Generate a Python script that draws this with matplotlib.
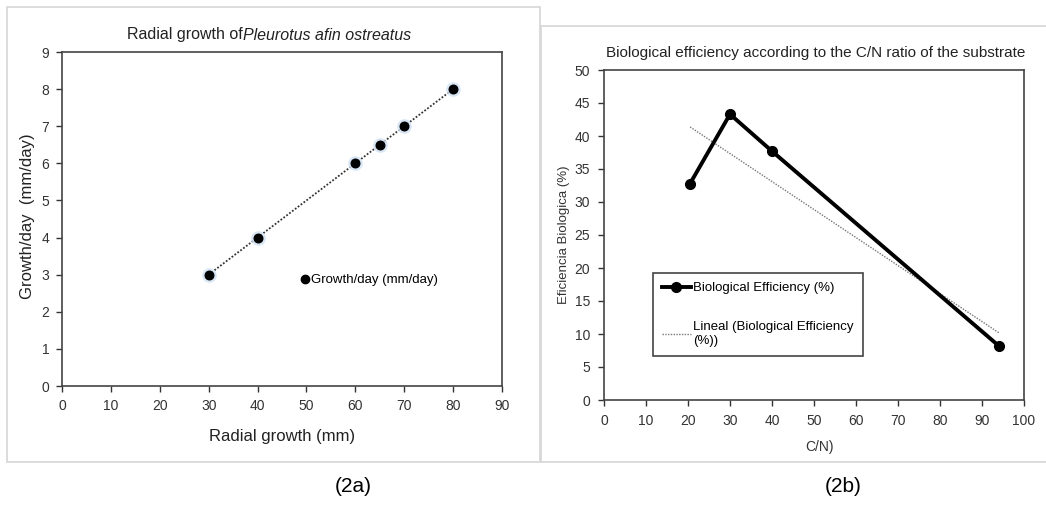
import numpy as np
import matplotlib
matplotlib.use("Agg")
import matplotlib.pyplot as plt
from matplotlib.patches import Rectangle
from matplotlib.lines import Line2D

plt.rcParams['font.family'] = ['Liberation Sans', 'DejaVu Sans']

# Panel (2a): radial growth vs growth per day
radial_growth = [30, 40, 60, 65, 70, 80]
growth_per_day = [3, 4, 6, 6.5, 7, 8]

# Panel (2b): biological efficiency vs C/N ratio
cn_ratio = [20.5, 30, 40, 94]
bio_eff = [32.8, 43.3, 37.7, 8.2]

W, H = 1046, 526
fig = plt.figure(figsize=(W / 100, H / 100), dpi=100)
fig.patch.set_facecolor('white')


def px_axes(x0, y0, x1, y1):
    return fig.add_axes([x0 / W, 1 - y1 / H, (x1 - x0) / W, (y1 - y0) / H])


def fx(x):
    return x / W


def fy(y):
    return 1 - y / H


# light grey frames around each chart
frame_col = '#d6d6d6'
fig.patches.append(Rectangle((fx(7), fy(462)), fx(540 - 7), (462 - 7) / H,
                             transform=fig.transFigure, fill=False,
                             edgecolor=frame_col, linewidth=1.2))
fig.patches.append(Rectangle((fx(541), fy(462)), fx(1046 - 541 + 5), (462 - 26) / H,
                             transform=fig.transFigure, fill=False,
                             edgecolor=frame_col, linewidth=1.2))

tick_col = '#333333'

# ---------- left chart ----------
ax1 = px_axes(62, 52, 502, 386)
ax1.set_xlim(0, 90)
ax1.set_ylim(0, 9)
ax1.set_xticks(range(0, 91, 10))
ax1.set_yticks(range(0, 10))
for s in ax1.spines.values():
    s.set_color('#444444')
    s.set_linewidth(1.2)
ax1.tick_params(direction='out', length=4, width=1, colors=tick_col,
                labelsize=10, pad=5)

coef1 = np.polyfit(radial_growth, growth_per_day, 1)
xs1 = np.array([min(radial_growth), max(radial_growth)])
ax1.plot(xs1, np.polyval(coef1, xs1), linestyle=(0, (1, 1)), color='#333333',
         linewidth=1.3, zorder=2)
ax1.scatter(radial_growth, growth_per_day, s=110, color='#cfe0f3', alpha=0.8,
            linewidths=0, zorder=3)
ax1.scatter(radial_growth, growth_per_day, s=38, color='black', zorder=4)

leg1 = ax1.legend([Line2D([], [], marker='o', color='black', linestyle='none',
                          markersize=6)],
                  ['Growth/day (mm/day)'], loc='center left',
                  bbox_to_anchor=(47.5 / 90, 2.85 / 9), frameon=False,
                  handlelength=0.6, handletextpad=0.15, borderpad=0,
                  fontsize=9.5)

fig.text(fx(243), fy(35), 'Radial growth of', ha='right', va='center',
         fontsize=11.5, color='#222222')
fig.text(fx(243), fy(35), 'Pleurotus afin ostreatus', ha='left', va='center',
         fontsize=11.5, style='italic', color='#222222')
fig.text(fx(28), fy(216), 'Growth/day  (mm/day)', rotation=90, ha='center',
         va='center', fontsize=12, color='#222222')
fig.text(fx(282), fy(437), 'Radial growth (mm)', ha='center', va='center',
         fontsize=12, color='#222222')

# ---------- right chart ----------
ax2 = px_axes(604, 70, 1024, 400)
ax2.set_xlim(0, 100)
ax2.set_ylim(0, 50)
ax2.set_xticks(range(0, 101, 10))
ax2.set_yticks(range(0, 51, 5))
for s in ax2.spines.values():
    s.set_color('#444444')
    s.set_linewidth(1.2)
ax2.tick_params(direction='out', length=4, width=1, colors=tick_col,
                labelsize=10, pad=6)

coef2 = np.polyfit(cn_ratio, bio_eff, 1)
xs2 = np.array([min(cn_ratio), max(cn_ratio)])
trend, = ax2.plot(xs2, np.polyval(coef2, xs2), linestyle=(0, (1, 1)),
                  color='#777777', linewidth=1.0, zorder=2)
main, = ax2.plot(cn_ratio, bio_eff, color='black', linewidth=2.8, marker='o',
                 markersize=7, zorder=3)

leg2 = ax2.legend([main, trend],
                  ['Biological Efficiency (%)',
                   'Lineal (Biological Efficiency\n(%))'],
                  loc='upper left', bbox_to_anchor=(0.1, 0.405),
                  fancybox=False, framealpha=1, edgecolor='#444444',
                  fontsize=9.5, handlelength=2.2, handletextpad=0.2,
                  labelspacing=2.0, borderpad=0.7)
leg2.get_frame().set_linewidth(1.2)

fig.text(fx(1025), fy(53), 'Biological efficiency according to the C/N ratio of the substrate',
         ha='right', va='center', fontsize=11, color='#222222')
fig.text(fx(564), fy(235), 'Eficiencia Biologica (%)', rotation=90,
         ha='center', va='center', fontsize=9.5, color='#333333')
fig.text(fx(820), fy(447), 'C/N)', ha='center', va='center',
         fontsize=10, color='#333333')

# panel captions
fig.text(fx(353), fy(487), '(2a)', ha='center', va='center', fontsize=15,
         color='black')
fig.text(fx(843), fy(487), '(2b)', ha='center', va='center', fontsize=15,
         color='black')

fig.savefig('out.png', dpi=100, facecolor='white')
